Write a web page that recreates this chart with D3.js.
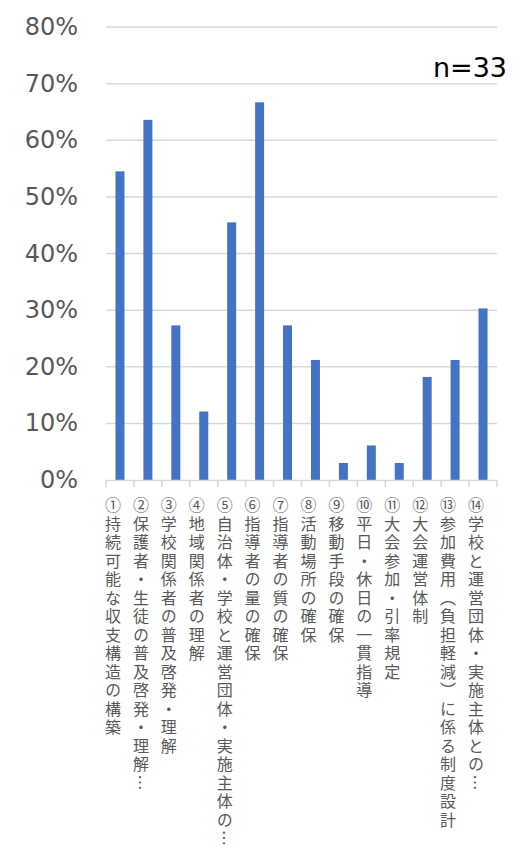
<!DOCTYPE html>
<html>
<head>
<meta charset="utf-8">
<script src="https://cdn.jsdelivr.net/npm/d3@7"></script>
<style>
  body { margin: 0; background: #fff; }
  svg { display: block; }
</style>
</head>
<body>
<svg id="chart"></svg>
<script>
// categories and values (n=33)
let categories = [
    '①持続可能な収支構造の構築',
    '②保護者・生徒の普及啓発・理解…',
    '③学校関係者の普及啓発・理解',
    '④地域関係者の理解',
    '⑤自治体・学校と運営団体・実施主体の…',
    '⑥指導者の量の確保',
    '⑦指導者の質の確保',
    '⑧活動場所の確保',
    '⑨移動手段の確保',
    '⑩平日・休日の一貫指導',
    '⑪大会参加・引率規定',
    '⑫大会運営体制',
    '⑬参加費用（負担軽減）に係る制度設計',
    '⑭学校と運営団体・実施主体との…'
]
let values = [0.545, 0.636, 0.273, 0.121, 0.455, 0.667, 0.273, 0.212, 0.030, 0.061, 0.030, 0.182, 0.212, 0.303]
let yTicks = [0, 0.1, 0.2, 0.3, 0.4, 0.5, 0.6, 0.7, 0.8]
let note = 'n=33'

let width = 528
let height = 846
let plotLeft = 106, plotRight = 497, plotTop = 27, plotBottom = 480

let svg = d3.select('#chart').attr('width', width).attr('height', height)

let xScale = d3.scaleBand().domain(categories).range([plotLeft, plotRight])
let yScale = d3.scaleLinear().domain([0, 0.8]).range([plotBottom, plotTop])

// gridlines
svg.append('g')
    .selectAll('line')
    .data(yTicks.slice(1))
    .enter()
    .append('line')
    .attr('x1', plotLeft).attr('x2', plotRight)
    .attr('y1', d => yScale(d)).attr('y2', d => yScale(d))
    .attr('stroke', '#d9d9d9')
    .attr('stroke-width', 1.5)

// y labels
svg.append('g')
    .selectAll('text')
    .data(yTicks)
    .enter()
    .append('text')
    .attr('x', 78)
    .attr('y', d => yScale(d) + 8)
    .attr('text-anchor', 'end')
    .attr('font-family', 'DejaVu Sans')
    .attr('font-size', 24)
    .attr('fill', '#595959')
    .text(d => d3.format('.0%')(d))

// bars
let barW = 9
svg.append('g')
    .selectAll('rect')
    .data(values)
    .enter()
    .append('rect')
    .attr('x', (d, i) => xScale(categories[i]) + xScale.bandwidth() / 2 - barW / 2)
    .attr('y', d => yScale(d))
    .attr('width', barW)
    .attr('height', d => plotBottom - yScale(d))
    .attr('fill', '#4472C4')

// x axis line and ticks
let xAxis = d3.axisBottom(xScale).tickSize(0).tickFormat('')
let ax = svg.append('g').attr('transform', 'translate(0,' + plotBottom + ')').call(xAxis)
ax.select('.domain').attr('stroke', '#d9d9d9').attr('stroke-width', 1.5)
ax.selectAll('.tick').remove()
let edges = categories.map(c => xScale(c)).concat([plotRight])
ax.selectAll('line.edge')
    .data(edges)
    .enter()
    .append('line')
    .attr('class', 'edge')
    .attr('x1', d => d).attr('x2', d => d)
    .attr('y1', 0).attr('y2', 7)
    .attr('stroke', '#d9d9d9')
    .attr('stroke-width', 1.5)

// vertical category labels
svg.append('g')
    .selectAll('text')
    .data(categories)
    .enter()
    .append('text')
    .attr('x', d => xScale(d) + xScale.bandwidth() / 2 - 7)
    .attr('y', 497)
    .attr('writing-mode', 'vertical-rl')
    .attr('font-family', "'Noto Sans CJK JP', sans-serif")
    .attr('font-size', 16)
    .attr('letter-spacing', 2.5)
    .attr('fill', '#595959')
    .text(d => d)

// n label
svg.append('text')
    .attr('x', 507)
    .attr('y', 77)
    .attr('text-anchor', 'end')
    .attr('font-family', 'DejaVu Sans')
    .attr('font-size', 27)
    .attr('fill', '#000')
    .text(note)
</script>
</body>
</html>
